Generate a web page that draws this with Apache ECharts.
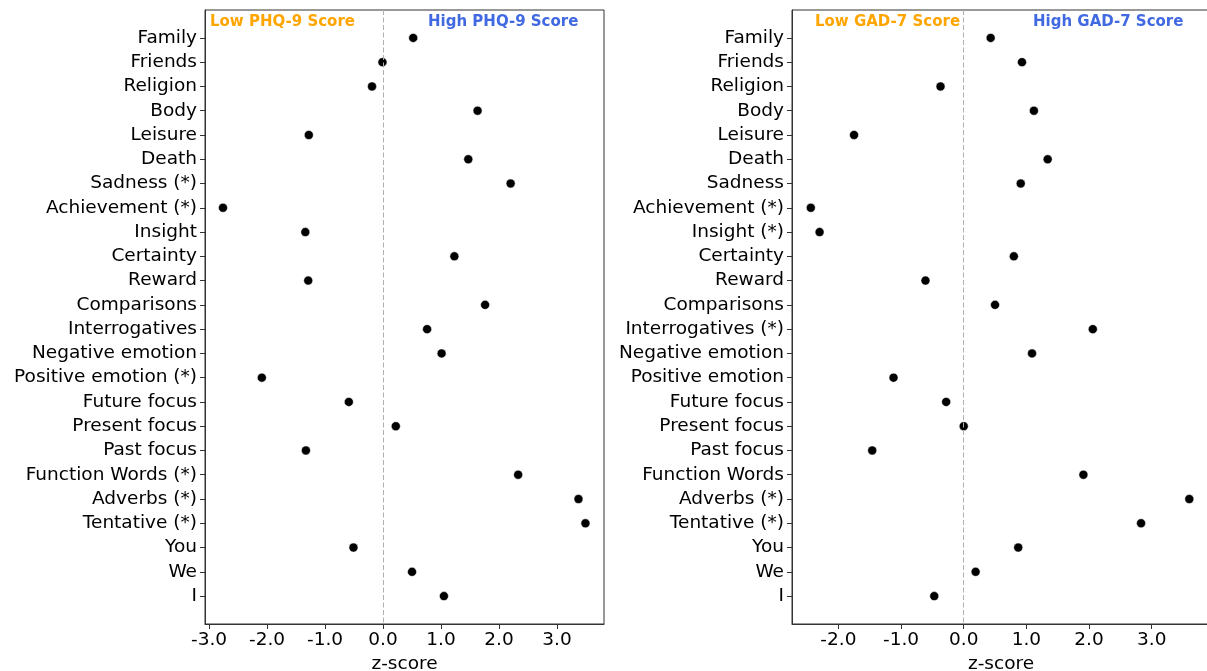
<!DOCTYPE html>
<html><head><meta charset="utf-8">
<script src="https://cdn.jsdelivr.net/npm/echarts@6/dist/echarts.min.js"></script>
<style>html,body{margin:0;padding:0;background:#fff}#c{width:1207px;height:671px}</style>
</head><body><div id="c"></div>
<script>
// ---- data (top to bottom) ----
const phqCategories = ["Family","Friends","Religion","Body","Leisure","Death","Sadness (*)","Achievement (*)","Insight","Certainty","Reward","Comparisons","Interrogatives","Negative emotion","Positive emotion (*)","Future focus","Present focus","Past focus","Function Words (*)","Adverbs (*)","Tentative (*)","You","We","I"];
const phqValues = [0.52,-0.01,-0.19,1.63,-1.28,1.47,2.20,-2.76,-1.34,1.23,-1.29,1.76,0.76,1.01,-2.09,-0.59,0.22,-1.33,2.33,3.37,3.49,-0.51,0.50,1.05];
const gadCategories = ["Family","Friends","Religion","Body","Leisure","Death","Sadness","Achievement (*)","Insight (*)","Certainty","Reward","Comparisons","Interrogatives (*)","Negative emotion","Positive emotion","Future focus","Present focus","Past focus","Function Words","Adverbs (*)","Tentative (*)","You","We","I"];
const gadValues = [0.43,0.93,-0.37,1.12,-1.75,1.34,0.91,-2.44,-2.30,0.80,-0.61,0.50,2.06,1.09,-1.12,-0.28,0.00,-1.46,1.91,3.60,2.83,0.87,0.19,-0.47];
const phqXTicks = [-3,-2,-1,0,1,2,3];
const gadXTicks = [-2,-1,0,1,2,3];
const xLabelText = "z-score";
const annotations = [
  {text:"Low PHQ-9 Score", color:"#FFA500"},
  {text:"High PHQ-9 Score", color:"#4169E1"},
  {text:"Low GAD-7 Score", color:"#FFA500"},
  {text:"High GAD-7 Score", color:"#4169E1"}
];

const FONT = "DejaVu Sans";
const FS = 18.5;
const AX = "#333";
const chart = echarts.init(document.getElementById('c'), null, {renderer:'canvas'});

function yAxisFor(cats, gridIndex){
  const idx = cats.map((_, i) => i);
  return {
    type:'value', gridIndex, inverse:true, min:-1.15, max:cats.length - 1 + 1.15,
    position:'left',
    splitLine:{show:false},
    axisLine:{show:true, onZero:false, lineStyle:{color:AX, width:1}},
    axisTick:{show:true, inside:false, length:5, customValues: idx, lineStyle:{color:AX}},
    axisLabel:{show:true, margin:8, customValues: idx, fontFamily:FONT, fontSize:FS, color:'#000',
      formatter: v => cats[Math.round(v)] ?? ''}
  };
}
function xAxisFor(ticks, min, max, gridIndex){
  return {
    type:'value', gridIndex, min, max,
    position:'bottom',
    splitLine:{show:false},
    axisLine:{show:true, onZero:false, lineStyle:{color:AX, width:1}},
    axisTick:{show:true, length:5, customValues: ticks, lineStyle:{color:AX}},
    axisLabel:{show:true, margin:7, customValues: ticks, fontFamily:FONT, fontSize:FS, color:'#000',
      formatter: v => Number(v).toFixed(1)},
    name: xLabelText, nameLocation:'middle', nameGap:24,
    nameTextStyle:{fontFamily:FONT, fontSize:FS, color:'#000'}
  };
}
function seriesFor(vals, idx){
  return {
    type:'scatter', xAxisIndex:idx, yAxisIndex:idx,
    data: vals.map((v, i) => [v, i]),
    symbol:'circle', symbolSize:9,
    itemStyle:{color:'#000', opacity:1, borderColor:'#fff', borderWidth:0.5},
    silent:true, z:3,
    markLine:{silent:true, symbol:'none', animation:false,
      label:{show:false},
      lineStyle:{color:'#b0b0b0', type:[5,2.5], width:1, opacity:1},
      data:[{xAxis:0}]}
  };
}

const option = {
  animation:false,
  backgroundColor:'#fff',
  grid:[
    {left:205, top:10, width:399, height:614, outerBoundsMode:'none', containLabel:false, show:true, borderColor:AX, borderWidth:1, backgroundColor:'transparent'},
    {left:792, top:10, width:418, height:614, outerBoundsMode:'none', containLabel:false, show:true, borderColor:AX, borderWidth:1, backgroundColor:'transparent'}
  ],
  xAxis:[ xAxisFor(phqXTicks, -3.07, 3.81, 0), xAxisFor(gadXTicks, -2.74, 3.93, 1) ],
  yAxis:[ yAxisFor(phqCategories, 0), yAxisFor(gadCategories, 1) ],
  series:[ seriesFor(phqValues, 0), seriesFor(gadValues, 1) ],
  graphic:[
    {type:'text', left:210, top:15, style:{text:annotations[0].text, fill:annotations[0].color, font:'bold 15px "DejaVu Sans"'}},
    {type:'text', left:428, top:15, style:{text:annotations[1].text, fill:annotations[1].color, font:'bold 15px "DejaVu Sans"'}},
    {type:'text', left:815, top:15, style:{text:annotations[2].text, fill:annotations[2].color, font:'bold 15px "DejaVu Sans"'}},
    {type:'text', left:1033, top:15, style:{text:annotations[3].text, fill:annotations[3].color, font:'bold 15px "DejaVu Sans"'}}
  ]
};
chart.setOption(option);
</script>
</body></html>
